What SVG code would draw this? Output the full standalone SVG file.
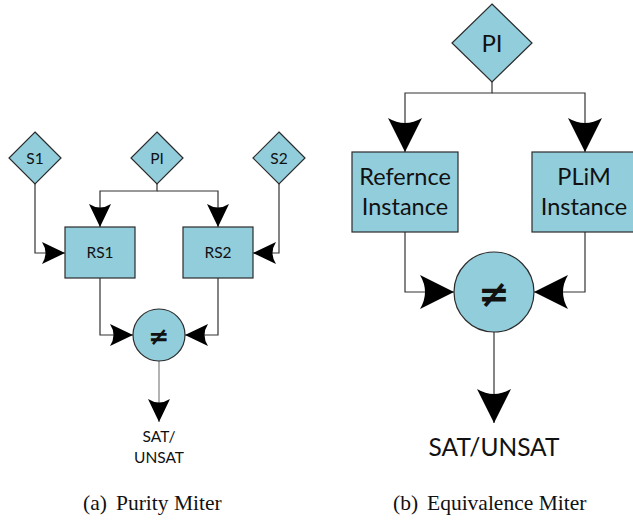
<svg xmlns="http://www.w3.org/2000/svg" width="633" height="521" viewBox="0 0 633 521">
<style>
.shape{fill:#92cddc;stroke:#2b2b2b;stroke-width:1.2}
.ln{fill:none;stroke:#333;stroke-width:1.2}
.t{font-family:Lato,"Noto Sans",sans-serif;fill:#111;text-anchor:middle}
.neq{font-family:"DejaVu Sans",sans-serif;font-weight:bold;fill:#111;text-anchor:middle}
.cap{font-family:"Liberation Serif","Times New Roman",serif;font-size:21.5px;fill:#111}
</style>
<defs>
<marker id="aS" markerUnits="userSpaceOnUse" markerWidth="24" markerHeight="22" refX="23" refY="11" orient="auto" viewBox="0 0 24 22">
<path d="M0,0 L23,11 L0,22 Q7,11 0,0 Z" fill="#000"/>
</marker>
<marker id="aL" markerUnits="userSpaceOnUse" markerWidth="35" markerHeight="34" refX="34" refY="17" orient="auto" viewBox="0 0 35 34">
<path d="M0,0 L34,17 L0,34 Q10,17 0,0 Z" fill="#000"/>
</marker>
</defs>
<g id="connectors">
<path class="ln" d="M157,184 V191 H100 V227" marker-end="url(#aS)"/>
<path class="ln" d="M157,191 H218 V227" marker-end="url(#aS)"/>
<path class="ln" d="M35,184 V253 H65" marker-end="url(#aS)"/>
<path class="ln" d="M279,184 V253 H253" marker-end="url(#aS)"/>
<path class="ln" d="M100,278 V335 H133" marker-end="url(#aS)"/>
<path class="ln" d="M218,278 V335 H185" marker-end="url(#aS)"/>
<path class="ln" style="stroke:#808080" d="M159,361 V422" marker-end="url(#aS)"/>
<path class="ln" d="M492,82 V93 H405 V152" marker-end="url(#aL)"/>
<path class="ln" d="M492,93 H585 V152" marker-end="url(#aL)"/>
<path class="ln" d="M405,232 V292 H454" marker-end="url(#aL)"/>
<path class="ln" d="M585,232 V292 H534" marker-end="url(#aL)"/>
<path class="ln" d="M494,332 V423" marker-end="url(#aL)"/>
</g>
<g id="S1"><polygon class="shape" points="35,132 61,158 35,184 9,158"/><text class="t" x="35" y="164" font-size="15.5">S1</text></g>
<g id="PI_a"><polygon class="shape" points="157,132 183,158 157,184 131,158"/><text class="t" x="157" y="164" font-size="15.5">PI</text></g>
<g id="S2"><polygon class="shape" points="279,132 305,158 279,184 253,158"/><text class="t" x="279" y="164" font-size="15.5">S2</text></g>
<g id="RS1"><rect class="shape" x="65" y="227" width="70" height="51"/><text class="t" x="100" y="258" font-size="15.5">RS1</text></g>
<g id="RS2"><rect class="shape" x="183" y="227" width="70" height="51"/><text class="t" x="218" y="258" font-size="15.5">RS2</text></g>
<g id="NEQ_a"><circle class="shape" cx="159" cy="335" r="26"/><text class="neq" x="159" y="345" font-size="25">≠</text></g>
<g id="OUT_a"><text class="t" x="159" y="442" font-size="15.5">SAT/</text><text class="t" x="159" y="463" font-size="15.5">UNSAT</text></g>
<g id="PI_b"><polygon class="shape" points="492,4 532,43 492,82 452,43"/><text class="t" x="492" y="52" font-size="24">PI</text></g>
<g id="REF"><rect class="shape" x="352" y="152" width="106" height="80"/><text class="t" x="405" y="185" font-size="23.5">Refernce</text><text class="t" x="405" y="215" font-size="23.5">Instance</text></g>
<g id="PLIM"><rect class="shape" x="532" y="152" width="106" height="80"/><text class="t" x="584" y="185" font-size="23.5">PLiM</text><text class="t" x="584" y="215" font-size="23.5">Instance</text></g>
<g id="NEQ_b"><circle class="shape" cx="494" cy="292" r="40"/><text class="neq" x="494" y="306.5" font-size="38">≠</text></g>
<g id="OUT_b"><text class="t" x="494" y="456" font-size="24.5">SAT/UNSAT</text></g>
<text class="cap" x="83" y="510">(a)<tspan x="116">Purity Miter</tspan></text>
<text class="cap" x="393" y="510">(b)<tspan x="427">Equivalence Miter</tspan></text>
</svg>
